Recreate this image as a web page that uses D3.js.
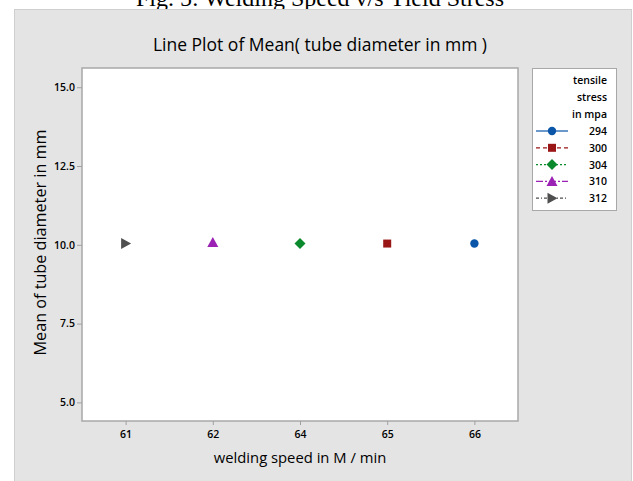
<!DOCTYPE html>
<html lang="en">
<head>
<meta charset="UTF-8">
<title>Line Plot of Mean</title>
<style>
  body { margin: 0; background: #fff; }
  svg text { font-family: "Open Sans", "DejaVu Sans", sans-serif; }
</style>
</head>
<body>
<script src="https://d3js.org/d3.v7.min.js"></script>
<div id="chart"></div>
<script>
// data
const speeds = ["61", "62", "64", "65", "66"];
const stressLevels = ["294", "300", "304", "310", "312"];
const speedOf = ["66", "65", "64", "62", "61"];      // speed where each stress level sits
const meanDiameter = [10.04, 10.04, 10.04, 10.07, 10.04];
const yTicks = [5.0, 7.5, 10.0, 12.5, 15.0];
const legendTitle = ["tensile", "stress", "in mpa"];

const colors = ["#0b56a8", "#9a1616", "#0a8a2c", "#9b22b4", "#4f4f4f"];
const dashes = [null, "4,3", "2,2", "7,2,2,2", "3,2,1,2"];

const width = 633, height = 481;
const plot = {left: 82, top: 68, right: 518, bottom: 421};

const svg = d3.select("#chart").append("svg")
  .attr("width", width).attr("height", height);

// caption of the figure, mostly cut off above
svg.append("text")
  .attr("x", 320).attr("y", 6)
  .attr("text-anchor", "middle")
  .style("font-family", "'Liberation Serif', 'DejaVu Serif', serif")
  .style("font-size", "24px")
  .attr("fill", "#000")
  .text("Fig. 5: Welding Speed v/s Yield Stress");

// grey panel
svg.append("rect")
  .attr("x", 14.5).attr("y", 9.5).attr("width", 617).attr("height", 480)
  .attr("fill", "#e4e4e4").attr("stroke", "#cfcfcf");

svg.append("text")
  .attr("x", 320).attr("y", 51)
  .attr("text-anchor", "middle")
  .style("font-size", "17.5px")
  .attr("fill", "#000")
  .text("Line Plot of Mean( tube diameter in mm )");

// plot area
svg.append("rect")
  .attr("x", plot.left).attr("y", plot.top)
  .attr("width", plot.right - plot.left).attr("height", plot.bottom - plot.top)
  .attr("fill", "#fff").attr("stroke", "#a8a8a8").attr("stroke-width", 1.5);

const x = d3.scalePoint().domain(speeds).range([plot.left, plot.right]).padding(0.5);
const y = d3.scaleLinear().domain([4.41, 15.61]).range([plot.bottom, plot.top]);

const xAxis = svg.append("g")
  .attr("transform", `translate(0,${plot.bottom})`)
  .call(d3.axisBottom(x).tickSize(4).tickPadding(6));
const yAxis = svg.append("g")
  .attr("transform", `translate(${plot.left},0)`)
  .call(d3.axisLeft(y).tickValues(yTicks).tickFormat(d3.format(".1f")).tickSize(5).tickPadding(2));

[xAxis, yAxis].forEach(g => {
  g.select(".domain").remove();
  g.selectAll(".tick line").attr("stroke", "#a0a0a0");
  g.selectAll(".tick text")
    .attr("fill", "#000")
    .style("font-size", "10.5px")
    .style("font-weight", "600")
    .style("font-family", "'Open Sans', sans-serif");
});

svg.append("text")
  .attr("x", 300).attr("y", 463)
  .attr("text-anchor", "middle")
  .style("font-size", "14.8px")
  .attr("fill", "#000")
  .text("welding speed in M / min");

svg.append("text")
  .attr("transform", `translate(46,${(plot.top + plot.bottom) / 2 - 2}) rotate(-90)`)
  .attr("text-anchor", "middle")
  .style("font-size", "16.2px")
  .attr("fill", "#000")
  .text("Mean of tube diameter in mm");

function markerPath(i) {
  const p = d3.path();
  if (i === 0) {
    p.arc(0, 0, 4.2, 0, 2 * Math.PI);
  } else if (i === 1) {
    p.rect(-4, -4, 8, 8);
  } else if (i === 2) {
    p.moveTo(0, -5.5); p.lineTo(5.5, 0); p.lineTo(0, 5.5); p.lineTo(-5.5, 0); p.closePath();
  } else if (i === 3) {
    p.moveTo(0, -5.5); p.lineTo(5.5, 4.5); p.lineTo(-5.5, 4.5); p.closePath();
  } else {
    p.moveTo(-4.5, -5.5); p.lineTo(5.5, 0); p.lineTo(-4.5, 5.5); p.closePath();
  }
  return p.toString();
}

// one mean per stress level
svg.append("g").selectAll("path")
  .data(stressLevels)
  .join("path")
  .attr("d", (d, i) => markerPath(i))
  .attr("transform", (d, i) => `translate(${x(speedOf[i])},${y(meanDiameter[i])})`)
  .attr("fill", (d, i) => colors[i]);

// legend
const lg = svg.append("g");
lg.append("rect")
  .attr("x", 532.5).attr("y", 68.5).attr("width", 84).attr("height", 142)
  .attr("fill", "#fff").attr("stroke", "#a8a8a8");

lg.selectAll("text.head")
  .data(legendTitle)
  .join("text")
  .attr("class", "head")
  .attr("x", 607).attr("y", (d, i) => 84 + i * 17)
  .attr("text-anchor", "end")
  .style("font-size", "10.5px")
  .style("font-weight", "600")
  .attr("fill", "#000")
  .text(d => d);

const rows = lg.selectAll("g.row")
  .data(stressLevels)
  .join("g")
  .attr("class", "row")
  .attr("transform", (d, i) => `translate(0,${131 + i * 16.8})`);

rows.append("line")
  .attr("x1", 536).attr("x2", 568)
  .attr("stroke", (d, i) => colors[i])
  .attr("stroke-width", 1.2)
  .attr("stroke-dasharray", (d, i) => dashes[i]);

rows.append("path")
  .attr("d", (d, i) => markerPath(i))
  .attr("transform", "translate(552,0)")
  .attr("fill", (d, i) => colors[i]);

rows.append("text")
  .attr("x", 607).attr("y", 4)
  .attr("text-anchor", "end")
  .style("font-size", "10.5px")
  .style("font-weight", "600")
  .attr("fill", "#000")
  .text(d => d);
</script>
</body>
</html>
